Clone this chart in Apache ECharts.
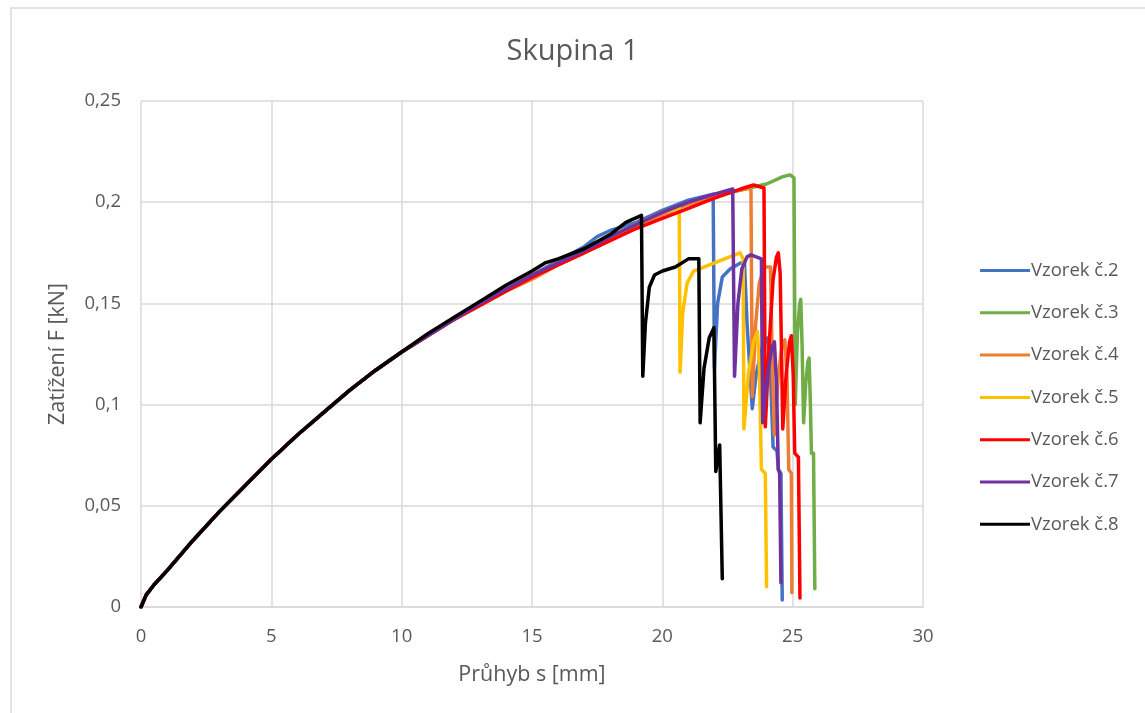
<!DOCTYPE html>
<html>
<head>
<meta charset="utf-8">
<title>Skupina 1</title>
<script src="https://cdn.jsdelivr.net/npm/echarts@6/dist/echarts.min.js"></script>
<style>
  html, body { margin: 0; padding: 0; background: #ffffff; }
  #chart { width: 1145px; height: 713px; }
</style>
</head>
<body>
<div id="chart"></div>
<script>
// Load-deflection curves for group 1: [deflection s (mm), load F (kN)]
const sampleNames = ['Vzorek č.2', 'Vzorek č.3', 'Vzorek č.4', 'Vzorek č.5', 'Vzorek č.6', 'Vzorek č.7', 'Vzorek č.8'];
const sampleColors = ['#4472C4', '#70AD47', '#ED7D31', '#FFC000', '#FF0000', '#7030A0', '#000000'];

const vzorek2 = [
  [0, 0], [0.2, 0.006], [0.5, 0.011], [1, 0.018], [2, 0.033], [3, 0.047], [4, 0.060], [5, 0.073],
  [6, 0.085], [7, 0.096], [8, 0.107], [9, 0.117], [10, 0.126], [11, 0.134], [12, 0.142], [13, 0.150],
  [14, 0.157], [15, 0.164], [16, 0.171], [17, 0.178], [17.5, 0.183], [18, 0.186], [18.5, 0.188],
  [19, 0.190], [20, 0.196], [21, 0.201], [21.95, 0.204], [22.0, 0.118], [22.12, 0.150], [22.3, 0.163],
  [22.6, 0.167], [23.0, 0.170], [23.15, 0.170], [23.25, 0.140], [23.45, 0.098], [23.6, 0.115],
  [23.85, 0.129], [24.05, 0.133], [24.15, 0.115], [24.25, 0.079], [24.4, 0.077], [24.45, 0.068],
  [24.55, 0.066], [24.6, 0.0035]
];
const vzorek3 = [
  [0, 0], [0.2, 0.006], [0.5, 0.011], [1, 0.018], [2, 0.033], [3, 0.047], [4, 0.060], [5, 0.073],
  [6, 0.085], [7, 0.096], [8, 0.107], [9, 0.117], [10, 0.126], [11, 0.134], [12, 0.142], [13, 0.150],
  [14, 0.157], [15, 0.164], [16, 0.170], [17, 0.176], [18, 0.183], [19, 0.189], [20, 0.194],
  [21, 0.199], [22, 0.203], [23, 0.206], [24, 0.209], [24.6, 0.2125], [24.9, 0.2135], [25.05, 0.212],
  [25.1, 0.100], [25.18, 0.135], [25.27, 0.150], [25.31, 0.152], [25.36, 0.130], [25.42, 0.091],
  [25.5, 0.110], [25.58, 0.121], [25.63, 0.123], [25.68, 0.100], [25.72, 0.076], [25.8, 0.076],
  [25.85, 0.009]
];
const vzorek4 = [
  [0, 0], [0.2, 0.006], [0.5, 0.011], [1, 0.018], [2, 0.033], [3, 0.047], [4, 0.060], [5, 0.073],
  [6, 0.085], [7, 0.096], [8, 0.107], [9, 0.117], [10, 0.126], [11, 0.134], [12, 0.142], [13, 0.149],
  [14, 0.156], [15, 0.162], [16, 0.169], [17, 0.175], [18, 0.182], [19, 0.188], [20, 0.194],
  [21, 0.199], [22, 0.203], [23, 0.206], [23.4, 0.207], [23.45, 0.104], [23.58, 0.140], [23.72, 0.160],
  [23.9, 0.168], [24.15, 0.168], [24.22, 0.120], [24.3, 0.085], [24.45, 0.115], [24.6, 0.130],
  [24.7, 0.132], [24.78, 0.115], [24.85, 0.068], [24.95, 0.066], [24.97, 0.007]
];
const vzorek5 = [
  [0, 0], [0.2, 0.006], [0.5, 0.011], [1, 0.018], [2, 0.033], [3, 0.047], [4, 0.060], [5, 0.073],
  [6, 0.085], [7, 0.096], [8, 0.107], [9, 0.117], [10, 0.126], [11, 0.134], [12, 0.142], [13, 0.150],
  [14, 0.157], [15, 0.164], [16, 0.170], [17, 0.176], [18, 0.183], [19, 0.189], [20, 0.195],
  [20.65, 0.197], [20.68, 0.116], [20.78, 0.145], [20.95, 0.160], [21.2, 0.166], [22, 0.170],
  [22.98, 0.175], [23.1, 0.172], [23.13, 0.088], [23.3, 0.115], [23.5, 0.131], [23.65, 0.136],
  [23.72, 0.120], [23.8, 0.068], [23.95, 0.066], [24.0, 0.010]
];
const vzorek6 = [
  [0, 0], [0.2, 0.006], [0.5, 0.011], [1, 0.018], [2, 0.033], [3, 0.047], [4, 0.060], [5, 0.073],
  [6, 0.085], [7, 0.096], [8, 0.107], [9, 0.117], [10, 0.126], [11, 0.134], [12, 0.142], [13, 0.149],
  [14, 0.156], [15, 0.163], [16, 0.169], [17, 0.175], [18, 0.181], [19, 0.187], [20, 0.192],
  [21, 0.197], [22, 0.202], [23, 0.2065], [23.5, 0.2085], [23.9, 0.207], [23.95, 0.089], [24.1, 0.130],
  [24.25, 0.162], [24.38, 0.173], [24.45, 0.175], [24.52, 0.165], [24.58, 0.120], [24.62, 0.088],
  [24.75, 0.115], [24.88, 0.131], [24.95, 0.134], [25.02, 0.115], [25.08, 0.076], [25.22, 0.074],
  [25.28, 0.0045]
];
const vzorek7 = [
  [0, 0], [0.2, 0.006], [0.5, 0.011], [1, 0.018], [2, 0.033], [3, 0.047], [4, 0.060], [5, 0.073],
  [6, 0.085], [7, 0.096], [8, 0.107], [9, 0.117], [10, 0.126], [11, 0.134], [12, 0.142], [13, 0.150],
  [14, 0.157], [15, 0.164], [16, 0.170], [17, 0.176], [18, 0.183], [19, 0.189], [20, 0.195],
  [21, 0.200], [22, 0.204], [22.7, 0.2065], [22.77, 0.114], [22.9, 0.150], [23.05, 0.167],
  [23.25, 0.173], [23.4, 0.174], [23.8, 0.172], [23.85, 0.091], [24.0, 0.112], [24.2, 0.128],
  [24.3, 0.131], [24.38, 0.110], [24.45, 0.068], [24.5, 0.066], [24.55, 0.012]
];
const vzorek8 = [
  [0, 0], [0.2, 0.006], [0.5, 0.011], [1, 0.018], [2, 0.033], [3, 0.047], [4, 0.060], [5, 0.073],
  [6, 0.085], [7, 0.096], [8, 0.107], [9, 0.117], [10, 0.126], [11, 0.135], [12, 0.143], [13, 0.151],
  [14, 0.159], [15, 0.166], [15.5, 0.170], [16, 0.172], [17, 0.177], [18, 0.184], [18.6, 0.190],
  [19.2, 0.1935], [19.25, 0.114], [19.35, 0.140], [19.5, 0.158], [19.7, 0.164], [20.0, 0.166],
  [20.5, 0.168], [21.0, 0.172], [21.4, 0.172], [21.45, 0.091], [21.6, 0.118], [21.8, 0.133],
  [21.98, 0.138], [22.05, 0.067], [22.2, 0.080], [22.3, 0.014]
];
const sampleData = [vzorek2, vzorek3, vzorek4, vzorek5, vzorek6, vzorek7, vzorek8];

// Axis ticks and their printed labels (decimal comma)
const xTicks = [0, 5, 10, 15, 20, 25, 30];
const yTicks = [0, 0.05, 0.1, 0.15, 0.2, 0.25];
const yTickLabels = ['0', '0,05', '0,1', '0,15', '0,2', '0,25'];

const FONT = '"Open Sans", Lato, sans-serif';
const TEXT_COLOR = '#595959';
const GRID_COLOR = '#d9d9d9';

const chart = echarts.init(document.getElementById('chart'), null, { renderer: 'canvas' });

chart.setOption({
  backgroundColor: '#ffffff',
  animation: false,
  textStyle: { fontFamily: FONT },
  graphic: [{
    type: 'rect',
    shape: { x: 11, y: 8, width: 1160, height: 730 },
    style: { fill: 'none', stroke: GRID_COLOR, lineWidth: 1.5 },
    silent: true,
    z: -10
  }],
  title: {
    text: 'Skupina 1',
    left: 'center',
    top: 32,
    textStyle: { fontFamily: FONT, fontSize: 29, fontWeight: 'normal', color: TEXT_COLOR }
  },
  legend: {
    orient: 'vertical',
    left: 975,
    top: 256,
    itemWidth: 50,
    itemHeight: 3,
    itemGap: 23.3,
    icon: 'rect',
    data: sampleNames,
    textStyle: { fontFamily: FONT, fontSize: 18.5, lineHeight: 17, color: TEXT_COLOR, padding: [0, 0, 0, -4] }
  },
  grid: { left: 141, top: 101, right: 222, bottom: 106, containLabel: false },
  xAxis: {
    type: 'value',
    min: xTicks[0],
    max: xTicks[xTicks.length - 1],
    interval: 5,
    name: 'Průhyb s [mm]',
    nameLocation: 'middle',
    nameGap: 57,
    nameTextStyle: { fontFamily: FONT, fontSize: 21.5, color: TEXT_COLOR },
    axisLine: { show: true, lineStyle: { color: GRID_COLOR, width: 1.5 } },
    axisTick: { show: false },
    axisLabel: { fontFamily: FONT, fontSize: 18.5, color: TEXT_COLOR, margin: 20 },
    splitLine: { show: true, lineStyle: { color: GRID_COLOR, width: 1.5 } }
  },
  yAxis: {
    type: 'value',
    min: yTicks[0],
    max: yTicks[yTicks.length - 1],
    interval: 0.05,
    name: 'Zatížení F [kN]',
    nameLocation: 'middle',
    nameGap: 72,
    nameTextStyle: { fontFamily: FONT, fontSize: 21.5, color: TEXT_COLOR },
    axisLine: { show: false },
    axisTick: { show: false },
    axisLabel: {
      fontFamily: FONT, fontSize: 18.5, color: TEXT_COLOR, margin: 20,
      formatter: function (v) {
        const i = yTicks.findIndex(t => Math.abs(t - v) < 1e-9);
        return i >= 0 ? yTickLabels[i] : String(v).replace('.', ',');
      }
    },
    splitLine: { show: true, lineStyle: { color: GRID_COLOR, width: 1.5 } }
  },
  series: sampleNames.map((name, i) => ({
    name: name,
    type: 'line',
    data: sampleData[i],
    showSymbol: false,
    symbol: 'none',
    smooth: false,
    color: sampleColors[i],
    lineStyle: { color: sampleColors[i], width: 3.5, join: 'round', cap: 'round' },
    z: 2 + i
  }))
});
</script>
</body>
</html>
